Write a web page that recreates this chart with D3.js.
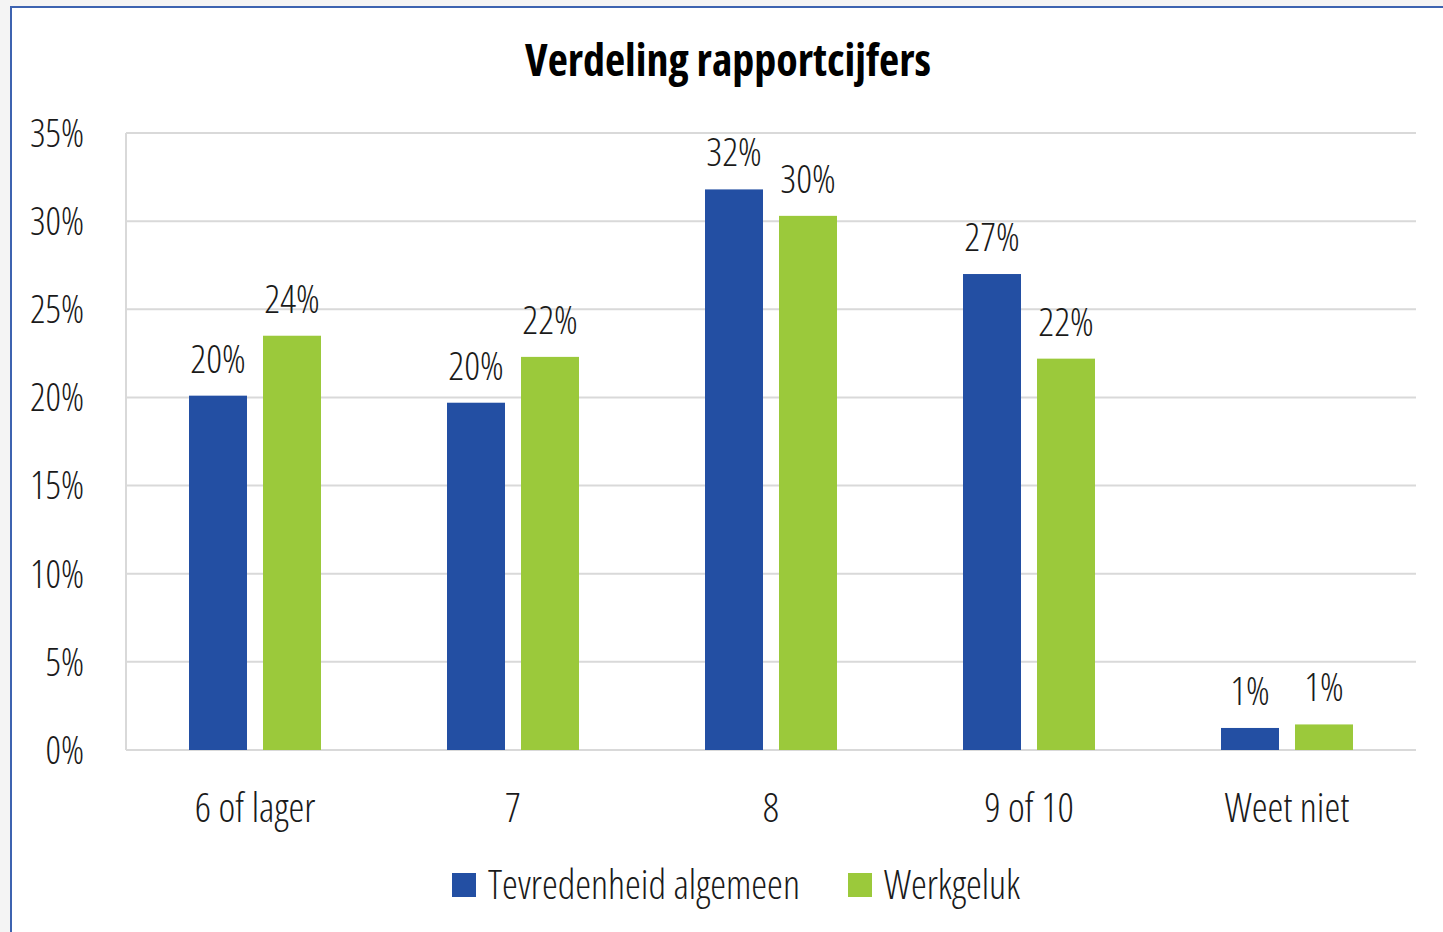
<!DOCTYPE html>
<html>
<head>
<meta charset="utf-8">
<script src="https://cdn.jsdelivr.net/npm/d3@7"></script>
<style>
  body { margin: 0; background: #f4f4f4; }
  svg text { font-family: "Open Sans", "Liberation Sans Narrow", sans-serif; font-stretch: condensed; font-weight: 300; fill: #1a1a1a; }
</style>
</head>
<body>
<svg id="chart" width="1443" height="932"></svg>
<script>
'use strict';

const categories = ['6 of lager', '7', '8', '9 of 10', 'Weet niet']
const seriesNames = ['Tevredenheid algemeen', 'Werkgeluk']
const tevredenheid = [20.1, 19.7, 31.8, 27.0, 1.25]
const werkgeluk = [23.5, 22.3, 30.3, 22.2, 1.45]
const yTicks = [0, 5, 10, 15, 20, 25, 30, 35]
const colors = ['#234fa3', '#9bc93b']

const series = [tevredenheid, werkgeluk]

let margin = { top: 133, left: 126, right: 27, bottom: 182 },
    width = 1443 - margin.left - margin.right,
    height = 932 - margin.top - margin.bottom

let svg = d3.select('#chart')

// frame
svg.append('rect')
    .attr('x', 11).attr('y', 7)
    .attr('width', 1460).attr('height', 960)
    .attr('fill', '#fff')
    .attr('stroke', '#3d63b0')
    .attr('stroke-width', 2)

svg.append('text')
    .attr('x', 728).attr('y', 76)
    .attr('text-anchor', 'middle')
    .style('font-size', '44px')
    .style('font-weight', 700)
    .style('fill', '#000')
    .text('Verdeling rapportcijfers')

let g = svg.append('g')
    .attr('transform', `translate(${margin.left}, ${margin.top})`)

let x = d3.scaleBand()
    .domain(categories)
    .range([0, width])

let y = d3.scaleLinear()
    .domain([0, 35])
    .range([height, 0])

// grid lines
g.append('g')
    .selectAll('line')
    .data(yTicks)
    .join('line')
    .attr('x1', 0).attr('x2', width)
    .attr('y1', d => y(d)).attr('y2', d => y(d))
    .attr('stroke', '#d9d9d9')
    .attr('stroke-width', 2)

g.append('line')
    .attr('x1', 0).attr('x2', 0)
    .attr('y1', 0).attr('y2', height)
    .attr('stroke', '#d9d9d9')
    .attr('stroke-width', 2)

let yAxis = g.append('g')
    .call(d3.axisLeft(y).tickValues(yTicks).tickFormat(d => d + '%').tickSize(0).tickPadding(42))
yAxis.select('.domain').remove()
yAxis.selectAll('text')
    .style('font-size', '38px')
    .attr('dy', '0.35em')

let xAxis = g.append('g')
    .attr('transform', `translate(0, ${height})`)
    .call(d3.axisBottom(x).tickSize(0).tickPadding(44))
xAxis.select('.domain').remove()
xAxis.selectAll('text')
    .style('font-size', '40px')

let barWidth = 58, barGap = 16

series.forEach((vals, si) => {
    let offset = si === 0 ? -barGap / 2 - barWidth : barGap / 2
    let grp = g.append('g')
    grp.selectAll('rect')
        .data(vals)
        .join('rect')
        .attr('x', (d, i) => x(categories[i]) + x.bandwidth() / 2 + offset)
        .attr('y', d => y(d))
        .attr('width', barWidth)
        .attr('height', d => height - y(d))
        .attr('fill', colors[si])
    grp.selectAll('text')
        .data(vals)
        .join('text')
        .attr('x', (d, i) => x(categories[i]) + x.bandwidth() / 2 + offset + barWidth / 2)
        .attr('y', d => y(d) - 23)
        .attr('text-anchor', 'middle')
        .style('font-size', '39px')
        .text(d => Math.round(d) + '%')
})

// legend
let legend = svg.append('g')
let legendX = [452, 848]
seriesNames.forEach((name, i) => {
    legend.append('rect')
        .attr('x', legendX[i]).attr('y', 873)
        .attr('width', 24).attr('height', 24)
        .attr('fill', colors[i])
    legend.append('text')
        .attr('x', legendX[i] + 36).attr('y', 885)
        .attr('dy', '0.35em')
        .style('font-size', '40px')
        .text(name)
})
</script>
</body>
</html>
